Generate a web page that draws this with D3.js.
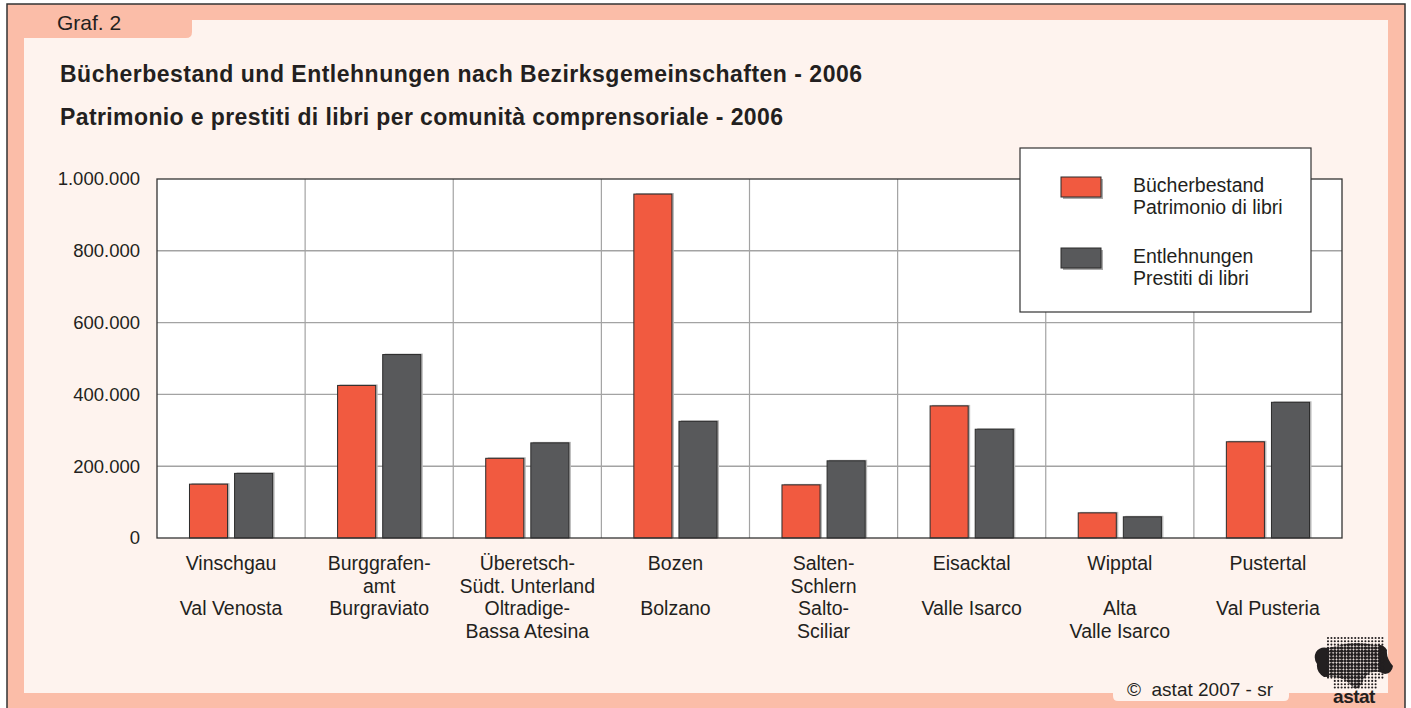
<!DOCTYPE html>
<html>
<head>
<meta charset="utf-8">
<script src="https://cdn.jsdelivr.net/npm/d3@7"></script>
<style>
  html, body { margin: 0; padding: 0; background: #fff; }
  svg { display: block; font-family: "Liberation Sans", Arial, sans-serif; }
</style>
</head>
<body>
<div class="canvas"></div>
<script>
// data
const categories = ['Vinschgau', 'Burggrafenamt', 'Überetsch', 'Bozen', 'Salten', 'Eisacktal', 'Wipptal', 'Pustertal'];
const catLabels = [
  ['Vinschgau', '', 'Val Venosta'],
  ['Burggrafen-', 'amt', 'Burgraviato'],
  ['Überetsch-', 'Südt. Unterland', 'Oltradige-', 'Bassa Atesina'],
  ['Bozen', '', 'Bolzano'],
  ['Salten-', 'Schlern', 'Salto-', 'Sciliar'],
  ['Eisacktal', '', 'Valle Isarco'],
  ['Wipptal', '', 'Alta', 'Valle Isarco'],
  ['Pustertal', '', 'Val Pusteria']
];
const stock = [150000, 425000, 222000, 958000, 148000, 368000, 70000, 268000];   // Bücherbestand
const loans = [180000, 511000, 265000, 325000, 215000, 303000, 59000, 378000];   // Entlehnungen
const series = ['stock', 'loans'];
const seriesLabels = [['Bücherbestand', 'Patrimonio di libri'], ['Entlehnungen', 'Prestiti di libri']];
const yTicks = [0, 200000, 400000, 600000, 800000, 1000000];

const colors = { stock: '#F15A40', loans: '#58595B' };
const pink = '#FBBDA8', light = '#FEF3EE', ink = '#231F20';

const W = 1411, H = 708;
const svg = d3.select('.canvas')
    .append('svg')
    .attr('width', W)
    .attr('height', H);

// frame
svg.append('rect').attr('x', 7).attr('y', 4).attr('width', 1398).attr('height', 710)
    .attr('fill', pink).attr('stroke', '#333').attr('stroke-width', 1.5);
svg.append('path')
    .attr('d', 'M24,38 L186,38 Q192,38 192,32 L192,20 L1388,20 L1388,693 L24,693 Z')
    .attr('fill', light);

svg.append('text').attr('x', 57).attr('y', 30)
    .attr('font-size', 21).attr('fill', ink).text('Graf. 2');

// titles
svg.append('text').attr('x', 60).attr('y', 82)
    .attr('font-size', 23).attr('font-weight', 'bold').attr('fill', ink)
    .attr('textLength', 802).attr('lengthAdjust', 'spacing')
    .text('Bücherbestand und Entlehnungen nach Bezirksgemeinschaften - 2006');
svg.append('text').attr('x', 60).attr('y', 125)
    .attr('font-size', 23).attr('font-weight', 'bold').attr('fill', ink)
    .attr('textLength', 723).attr('lengthAdjust', 'spacing')
    .text('Patrimonio e prestiti di libri per comunità comprensoriale - 2006');

// plot area
const margin = { left: 157, top: 179, right: 1342, bottom: 538 };

const x = d3.scaleBand()
    .domain(categories)
    .range([margin.left, margin.right]);

const x1 = d3.scaleBand()
    .domain(series)
    .range([0, x.bandwidth()])
    .paddingInner(0.156)
    .paddingOuter(0.72);

const y = d3.scaleLinear()
    .domain([0, 1000000])
    .range([margin.bottom, margin.top]);

const fmt = d3.formatLocale({ decimal: ',', thousands: '.', grouping: [3], currency: ['', ''] }).format(',');

const graph = svg.append('g');
graph.append('rect')
    .attr('x', margin.left).attr('y', margin.top)
    .attr('width', margin.right - margin.left).attr('height', margin.bottom - margin.top)
    .attr('fill', '#fff');

// horizontal grid
graph.selectAll('.hgrid')
    .data(yTicks.slice(1, -1))
    .enter().append('line')
    .attr('x1', margin.left).attr('x2', margin.right)
    .attr('y1', d => y(d)).attr('y2', d => y(d))
    .attr('stroke', '#a3a3a3').attr('stroke-width', 1.4);

// vertical grid at category boundaries
graph.selectAll('.vgrid')
    .data(categories.slice(1))
    .enter().append('line')
    .attr('x1', d => x(d)).attr('x2', d => x(d))
    .attr('y1', margin.top).attr('y2', margin.bottom)
    .attr('stroke', '#a3a3a3').attr('stroke-width', 1.2);

// bars
const rows = categories.map((c, i) => ({ cat: c, stock: stock[i], loans: loans[i] }));
const groups = graph.selectAll('.grp')
    .data(rows)
    .enter().append('g')
    .attr('transform', d => `translate(${x(d.cat)},0)`);

groups.selectAll('.shadow')
    .data(d => series.map(s => ({ key: s, value: d[s] })))
    .enter().append('rect')
    .attr('x', d => x1(d.key) + 2)
    .attr('y', d => y(d.value) - 1)
    .attr('width', x1.bandwidth())
    .attr('height', d => margin.bottom - y(d.value) + 1)
    .attr('fill', '#b8b8b8');

groups.selectAll('.bar')
    .data(d => series.map(s => ({ key: s, value: d[s] })))
    .enter().append('rect')
    .attr('x', d => x1(d.key))
    .attr('y', d => y(d.value))
    .attr('width', x1.bandwidth())
    .attr('height', d => margin.bottom - y(d.value))
    .attr('fill', d => colors[d.key])
    .attr('stroke', '#2b2b2b').attr('stroke-width', 1);

// plot border
graph.append('rect')
    .attr('x', margin.left).attr('y', margin.top)
    .attr('width', margin.right - margin.left).attr('height', margin.bottom - margin.top)
    .attr('fill', 'none').attr('stroke', '#333').attr('stroke-width', 1.3);

// y labels
graph.selectAll('.ylab')
    .data(yTicks)
    .enter().append('text')
    .attr('x', 140).attr('y', d => y(d))
    .attr('dy', '0.35em')
    .attr('text-anchor', 'end')
    .attr('font-size', 18.5).attr('fill', ink)
    .text(d => fmt(d));

// x labels
const xl = graph.selectAll('.xlab')
    .data(categories)
    .enter().append('text')
    .attr('text-anchor', 'middle')
    .attr('font-size', 19.5).attr('fill', ink);
xl.selectAll('tspan')
    .data((d, i) => catLabels[i].map((t, j) => ({ t, j, c: d })))
    .enter().append('tspan')
    .attr('x', d => x(d.c) + x.bandwidth() / 2)
    .attr('y', d => 570 + d.j * 22.5)
    .text(d => d.t);

// legend
const legend = svg.append('g');
legend.append('rect').attr('x', 1020).attr('y', 148).attr('width', 291).attr('height', 164)
    .attr('fill', '#fff').attr('stroke', '#333').attr('stroke-width', 1.2);
const items = legend.selectAll('.item')
    .data(series)
    .enter().append('g')
    .attr('transform', (d, i) => `translate(1061,${177 + i * 71})`);
items.append('rect').attr('x', 2).attr('y', 2).attr('width', 40).attr('height', 20).attr('fill', '#aaa');
items.append('rect').attr('width', 40).attr('height', 20)
    .attr('fill', d => colors[d]).attr('stroke', '#2b2b2b').attr('stroke-width', 1);
items.append('text')
    .attr('font-size', 19.5).attr('fill', ink)
    .selectAll('tspan')
    .data((d, i) => seriesLabels[i])
    .enter().append('tspan')
    .attr('x', 72).attr('y', (d, j) => 15 + j * 22)
    .text(d => d);

// copyright box
svg.append('path')
    .attr('d', 'M1113,690 L1289,690 L1289,696 Q1289,701 1284,701 L1118,701 Q1113,701 1113,696 Z')
    .attr('fill', light);
svg.append('text').attr('x', 1127).attr('y', 696)
    .attr('font-size', 19).attr('fill', ink)
    .attr('xml:space', 'preserve').text('©  astat 2007 - sr');

// astat logo
const logo = svg.append('g');
const blob = 'M1316,652 Q1320,646 1328,648 L1340,645 Q1356,641 1374,645 Q1384,644 1387,650 Q1386,658 1393,666 Q1392,673 1385,674 Q1377,670 1370,673 Q1364,676 1362,684 Q1356,692 1352,686 Q1346,680 1340,678 Q1332,676 1324,677 Q1316,672 1317,664 Q1313,658 1316,652 Z';
logo.append('clipPath').attr('id', 'blobclip').append('path').attr('d', blob);
const side = logo.append('clipPath').attr('id', 'sideclip');
side.append('rect').attr('x', 1310).attr('y', 630).attr('width', 19).attr('height', 60);
side.append('rect').attr('x', 1379).attr('y', 630).attr('width', 20).attr('height', 60);
// solid lobes at the outer edges of the map
logo.append('path').attr('d', blob).attr('fill', ink)
    .attr('clip-path', 'url(#sideclip)');

const dots = [];
for (let r = 0; r < 16; r++) {
  for (let c = 0; c < 17; c++) {
    if (r > 12 && (c < 2 || c > 14)) continue;
    dots.push([1328 + c * 3.4, 638 + r * 3.3]);
  }
}
// small dots on the light ground
logo.append('g').selectAll('circle').data(dots).enter().append('circle')
    .attr('cx', d => d[0]).attr('cy', d => d[1]).attr('r', 1.05)
    .attr('fill', ink);
// heavier halftone inside the map outline
logo.append('g').attr('clip-path', 'url(#blobclip)')
    .selectAll('circle').data(dots).enter().append('circle')
    .attr('cx', d => d[0]).attr('cy', d => d[1]).attr('r', 1.75)
    .attr('fill', ink);
logo.append('text').attr('x', 1354).attr('y', 703)
    .attr('text-anchor', 'middle').attr('font-size', 19).attr('font-weight', 'bold')
    .attr('letter-spacing', -0.5).attr('fill', ink).text('astat');
</script>
</body>
</html>
